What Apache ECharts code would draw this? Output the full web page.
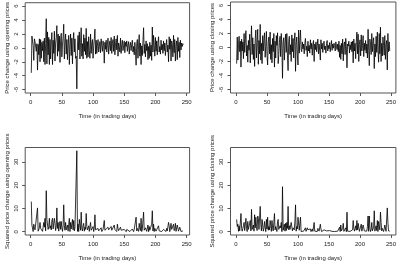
<!DOCTYPE html>
<html>
<head>
<meta charset="utf-8">
<script src="https://cdn.jsdelivr.net/npm/echarts@6/dist/echarts.min.js"></script>
<style>
  html, body { margin: 0; padding: 0; background: #fff; }
  #chart { width: 401px; height: 262px; }
</style>
</head>
<body>
<div id="chart"></div>
<script>
const openChange = [
  -3.6, 1.7, 1.5, 0.3, -1.8, 1.3, 0.9, 1.1, -0.5, 0.6,
  -3.2, 0.5, -1.0, 1.3, -2.0, 1.2, -1.5, 0.8, -0.4, 1.0,
  -2.0, 1.4, -2.4, 0.6, 4.2, -2.3, 2.3, -1.0, 1.5, -2.4,
  1.2, -1.6, 0.9, 2.2, -2.4, 1.1, -0.8, 2.4, -1.9, 0.7,
  1.5, 3.2, -1.2, 2.0, -0.5, 1.7, -2.1, 1.0, 2.1, -1.3,
  0.4, 1.6, 3.4, -1.6, 0.8, 2.0, -0.9, 1.2, -1.7, 0.5,
  1.8, -2.4, 0.3, 2.0, -1.1, 1.4, -2.3, 0.9, 2.2, -0.6,
  1.3, -1.5, -1.2, -5.9, 0.4, 1.8, -0.3, 2.3, -1.6, 0.8,
  2.9, -1.2, 0.6, -1.6, 1.9, -0.5, 1.4, -1.0, 2.8, -1.5,
  0.9, -1.3, 1.6, -0.4, -1.5, 2.0, -0.8, 0.7, 1.2, -1.5,
  0.3, 1.3, 2.7, -0.9, 1.1, -0.8, 0.4, 1.2, -0.6, 0.2,
  0.9, -0.7, 1.3, 0.3, -0.5, 1.0, 0.4, -2.2, 0.8, -0.2,
  1.1, -0.6, 0.5, 1.4, -0.9, 0.3, 1.0, -0.4, 1.5, -0.8,
  0.6, 1.2, -0.5, 1.7, -1.0, 0.4, 1.3, -0.3, 1.8, -1.2,
  0.7, 0.2, -0.6, 1.4, -0.8, 0.5, 1.1, -0.4, 0.3, 1.0,
  -0.7, 0.8, 0.2, 1.0, -0.5, 0.4, 0.9, -0.9, 0.3, 0.8,
  -0.4, 0.5, 1.1, -0.6, 0.2, -1.0, 0.8, -0.5, -2.5, 0.6,
  1.2, -1.5, 0.4, 1.9, -1.2, 0.7, -2.4, 0.3, -1.1, 1.0,
  2.9, -0.8, 0.5, -1.3, 1.0, -0.4, 0.6, -1.7, 0.2, -1.5,
  0.8, -1.2, 0.4, -1.8, 3.0, -0.6, 1.8, 0.3, -1.2, 1.5,
  -0.5, 1.0, -1.0, 0.6, 1.6, -0.6, 0.2, -0.9, 1.1, -0.3,
  0.5, -0.8, 1.0, -0.4, 0.7, -1.1, 0.3, 1.2, -0.6, 0.4,
  -2.0, 1.6, -0.2, 1.3, -1.9, 1.0, 0.5, -1.3, 1.8, -0.7,
  1.2, -1.9, 0.4, 1.0, -1.7, 1.5, -0.5, 0.8, -1.4, 1.1,
  -0.3, 0.7, 0.2, 0.6, 0.5
];

const closeChange = [
  -2.3, 1.5, -1.8, 0.4, 1.6, -0.6, 0.9, -2.8, 1.2, -0.5,
  0.8, -1.6, 2.0, -0.7, 1.1, 2.4, -1.2, 0.3, -2.1, 1.0,
  -0.4, 1.9, -2.2, 0.6, 3.1, -1.0, 1.4, -1.7, 0.5, -2.7,
  1.3, 2.5, -1.5, 0.7, 2.6, -2.4, 1.0, -0.9, 3.3, -1.8,
  0.6, -2.3, 1.7, -0.5, 1.2, 2.1, -1.4, 0.2, 2.3, -1.1,
  -2.5, 0.8, 1.5, -0.9, 2.2, -1.7, 0.4, -2.2, 1.3, -0.6,
  2.0, -2.8, 0.9, -1.5, 1.7, 0.3, 2.1, -2.3, -1.0, 0.7,
  1.6, -1.3, 2.0, 0.2, -4.4, 0.8, 1.4, -1.8, 0.5, 1.9,
  -0.7, 2.0, -1.2, -3.3, 0.9, 1.6, -1.0, 0.4, -2.0, 1.8,
  -0.6, 1.3, -1.5, 0.9, 2.1, -3.4, 0.5, 1.5, -1.1, -2.5,
  2.5, -0.8, 1.0, 2.5, -0.3, -0.6, 0.8, -0.2, 0.5, -0.9,
  0.6, 1.3, -0.4, 0.2, -1.3, 0.9, -0.5, 0.3, -0.8, 1.1,
  -0.2, 0.6, -1.1, 0.4, 1.0, -2.0, 0.5, -0.3, 0.8, -0.6,
  0.3, 1.2, -0.9, 0.5, -0.4, -1.8, 1.1, -0.2, 0.6, -0.7,
  0.4, 0.9, -0.3, 0.2, -0.8, 0.6, 1.0, -0.5, 0.3, -0.2,
  0.7, -0.6, 0.2, 1.0, -0.4, 0.5, -0.1, 0.6, 0.3, -0.5,
  0.8, 0.2, -0.3, 0.5, -0.6, 0.9, -1.4, 0.3, -1.7, 0.6,
  -0.9, 1.2, -1.9, 0.4, 0.8, -1.0, 1.3, 0.1, -2.9, 0.5,
  0.2, 0.9, -0.8, 0.4, -0.3, 0.8, -0.6, 0.9, -2.2, 1.2,
  -0.5, 0.6, -1.6, 0.8, 2.2, -0.9, 1.9, -2.0, 0.4, 1.1,
  -1.2, 1.8, -0.5, 0.3, 1.7, -1.3, 0.6, -0.4, 1.0, -0.8,
  0.5, -1.5, 2.6, -0.4, -2.6, 1.2, 0.3, -1.0, 2.0, -0.6,
  0.8, 1.4, -3.0, 0.5, -1.3, 1.6, -0.7, 2.2, -0.3, -2.1,
  2.0, -0.9, 2.9, -2.0, 0.6, -1.2, 1.5, 0.3, -1.1, 1.7,
  -1.7, 0.4, 1.0, -3.2, 2.0, -0.6, 0.8, -0.5
];

const openSquared = [
  12.96, 2.89, 2.25, 0.09, 3.24, 1.69, 0.81, 1.21, 0.25, 0.36,
  10.24, 0.25, 1.0, 1.69, 4.0, 1.44, 2.25, 0.64, 0.16, 1.0,
  4.0, 1.96, 5.76, 0.36, 17.64, 5.29, 5.29, 1.0, 2.25, 5.76,
  1.44, 2.56, 0.81, 4.84, 5.76, 1.21, 0.64, 5.76, 3.61, 0.49,
  2.25, 10.24, 1.44, 4.0, 0.25, 2.89, 4.41, 1.0, 4.41, 1.69,
  0.16, 2.56, 11.56, 2.56, 0.64, 4.0, 0.81, 1.44, 2.89, 0.25,
  3.24, 5.76, 0.09, 4.0, 1.21, 1.96, 5.29, 0.81, 4.84, 0.36,
  1.69, 2.25, 1.44, 34.81, 0.16, 3.24, 0.09, 5.29, 2.56, 0.64,
  8.41, 1.44, 0.36, 2.56, 3.61, 0.25, 1.96, 1.0, 7.84, 2.25,
  0.81, 1.69, 2.56, 0.16, 2.25, 4.0, 0.64, 0.49, 1.44, 2.25,
  0.09, 1.69, 7.29, 0.81, 1.21, 0.64, 0.16, 1.44, 0.36, 0.04,
  0.81, 0.49, 1.69, 0.09, 0.25, 1.0, 0.16, 4.84, 0.64, 0.04,
  1.21, 0.36, 0.25, 1.96, 0.81, 0.09, 1.0, 0.16, 2.25, 0.64,
  0.36, 1.44, 0.25, 2.89, 1.0, 0.16, 1.69, 0.09, 3.24, 1.44,
  0.49, 0.04, 0.36, 1.96, 0.64, 0.25, 1.21, 0.16, 0.09, 1.0,
  0.49, 0.64, 0.04, 1.0, 0.25, 0.16, 0.81, 0.81, 0.09, 0.64,
  0.16, 0.25, 1.21, 0.36, 0.04, 1.0, 0.64, 0.25, 6.25, 0.36,
  1.44, 2.25, 0.16, 3.61, 1.44, 0.49, 5.76, 0.09, 1.21, 1.0,
  8.41, 0.64, 0.25, 1.69, 1.0, 0.16, 0.36, 2.89, 0.04, 2.25,
  0.64, 1.44, 0.16, 3.24, 9.0, 0.36, 3.24, 0.09, 1.44, 2.25,
  0.25, 1.0, 1.0, 0.36, 2.56, 0.36, 0.04, 0.81, 1.21, 0.09,
  0.25, 0.64, 1.0, 0.16, 0.49, 1.21, 0.09, 1.44, 0.36, 0.16,
  4.0, 2.56, 0.04, 1.69, 3.61, 1.0, 0.25, 1.69, 3.24, 0.49,
  1.44, 3.61, 0.16, 1.0, 2.89, 2.25, 0.25, 0.64, 1.96, 1.21,
  0.09, 0.49, 0.04, 0.36, 0.25
];

const closeSquared = [
  5.29, 2.25, 3.24, 0.16, 2.56, 0.36, 0.81, 7.84, 1.44, 0.25,
  0.64, 2.56, 4.0, 0.49, 1.21, 5.76, 1.44, 0.09, 4.41, 1.0,
  0.16, 3.61, 4.84, 0.36, 9.61, 1.0, 1.96, 2.89, 0.25, 7.29,
  1.69, 6.25, 2.25, 0.49, 6.76, 5.76, 1.0, 0.81, 10.89, 3.24,
  0.36, 5.29, 2.89, 0.25, 1.44, 4.41, 1.96, 0.04, 5.29, 1.21,
  6.25, 0.64, 2.25, 0.81, 4.84, 2.89, 0.16, 4.84, 1.69, 0.36,
  4.0, 7.84, 0.81, 2.25, 2.89, 0.09, 4.41, 5.29, 1.0, 0.49,
  2.56, 1.69, 4.0, 0.04, 19.36, 0.64, 1.96, 3.24, 0.25, 3.61,
  0.49, 4.0, 1.44, 10.89, 0.81, 2.56, 1.0, 0.16, 4.0, 3.24,
  0.36, 1.69, 2.25, 0.81, 4.41, 11.56, 0.25, 2.25, 1.21, 6.25,
  6.25, 0.64, 1.0, 6.25, 0.09, 0.36, 0.64, 0.04, 0.25, 0.81,
  0.36, 1.69, 0.16, 0.04, 1.69, 0.81, 0.25, 0.09, 0.64, 1.21,
  0.04, 0.36, 1.21, 0.16, 1.0, 4.0, 0.25, 0.09, 0.64, 0.36,
  0.09, 1.44, 0.81, 0.25, 0.16, 3.24, 1.21, 0.04, 0.36, 0.49,
  0.16, 0.81, 0.09, 0.04, 0.64, 0.36, 1.0, 0.25, 0.09, 0.04,
  0.49, 0.36, 0.04, 1.0, 0.16, 0.25, 0.01, 0.36, 0.09, 0.25,
  0.64, 0.04, 0.09, 0.25, 0.36, 0.81, 1.96, 0.09, 2.89, 0.36,
  0.81, 1.44, 3.61, 0.16, 0.64, 1.0, 1.69, 0.01, 8.41, 0.25,
  0.04, 0.81, 0.64, 0.16, 0.09, 0.64, 0.36, 0.81, 4.84, 1.44,
  0.25, 0.36, 2.56, 0.64, 4.84, 0.81, 3.61, 4.0, 0.16, 1.21,
  1.44, 3.24, 0.25, 0.09, 2.89, 1.69, 0.36, 0.16, 1.0, 0.64,
  0.25, 2.25, 6.76, 0.16, 6.76, 1.44, 0.09, 1.0, 4.0, 0.36,
  0.64, 1.96, 9.0, 0.25, 1.69, 2.56, 0.49, 4.84, 0.09, 4.41,
  4.0, 0.81, 8.41, 4.0, 0.36, 1.44, 2.25, 0.09, 1.21, 2.89,
  2.89, 0.16, 1.0, 10.24, 4.0, 0.36, 0.64, 0.25
];

const xTicks = [0, 50, 100, 150, 200, 250];
const changeTicks = [-6, -4, -2, 0, 2, 4, 6];
const squaredTicks = [0, 10, 20, 30];

const xTitle = 'Time (in trading days)';
const panelTitles = [
  'Price change using opening prices',
  'Price change using closing prices',
  'Squared price change using opening prices',
  'Squared price change using closing prices'
];

const font = 'Liberation Sans, Arial, Helvetica, sans-serif';
const ink = '#000';
const frame = '#555';

const toPoints = (arr) => arr.map((v, i) => [i + 1, v]);

const grids = [
  { left: 25.2, top: 2, width: 164.4, height: 91 },
  { left: 230.5, top: 2, width: 165.4, height: 91 },
  { left: 25.2, top: 147.5, width: 164.4, height: 90 },
  { left: 230.5, top: 147.5, width: 165.4, height: 90 }
];

const xRanges = [[-8.76, 254.76], [-8.9, 257.9], [-8.76, 254.76], [-8.9, 257.9]];
const yRanges = [[-6.5, 6.5], [-6.5, 6.5], [-1.4, 36.2], [-1.4, 36.2]];
const yTickSets = [changeTicks, changeTicks, squaredTicks, squaredTicks];
const seriesData = [openChange, closeChange, openSquared, closeSquared];

const chart = echarts.init(document.getElementById('chart'), null, { renderer: 'canvas' });

const option = {
  animation: false,
  backgroundColor: '#fff',
  grid: grids.map(g => Object.assign({
    show: true,
    borderColor: frame,
    borderWidth: 1,
    containLabel: false
  }, g)),
  xAxis: grids.map((g, i) => ({
    type: 'value',
    gridIndex: i,
    position: 'bottom',
    min: xRanges[i][0],
    max: xRanges[i][1],
    name: xTitle,
    nameLocation: 'middle',
    nameGap: 20,
    nameTextStyle: { fontFamily: font, fontSize: 6, color: '#222' },
    axisLine: { show: false, onZero: false },
    splitLine: { show: false },
    axisTick: { show: true, inside: false, length: 3, customValues: xTicks, lineStyle: { color: frame, width: 1 } },
    axisLabel: { customValues: xTicks, margin: 6, fontFamily: font, fontSize: 6, color: '#222' }
  })),
  yAxis: grids.map((g, i) => ({
    type: 'value',
    gridIndex: i,
    position: 'left',
    min: yRanges[i][0],
    max: yRanges[i][1],
    name: panelTitles[i],
    nameLocation: 'middle',
    nameRotate: 90,
    nameGap: 15,
    nameTextStyle: { fontFamily: font, fontSize: 6, color: '#222' },
    axisLine: { show: false, onZero: false },
    splitLine: { show: false },
    axisTick: { show: true, inside: false, length: 3, customValues: yTickSets[i], lineStyle: { color: frame, width: 1 } },
    axisLabel: { customValues: yTickSets[i], rotate: 90, margin: 6, fontFamily: font, fontSize: 6, color: '#222' }
  })),
  series: seriesData.map((arr, i) => ({
    type: 'line',
    xAxisIndex: i,
    yAxisIndex: i,
    data: toPoints(arr),
    showSymbol: false,
    symbol: 'none',
    lineStyle: { color: ink, width: 0.8 }
  }))
};

chart.setOption(option);
</script>
</body>
</html>
